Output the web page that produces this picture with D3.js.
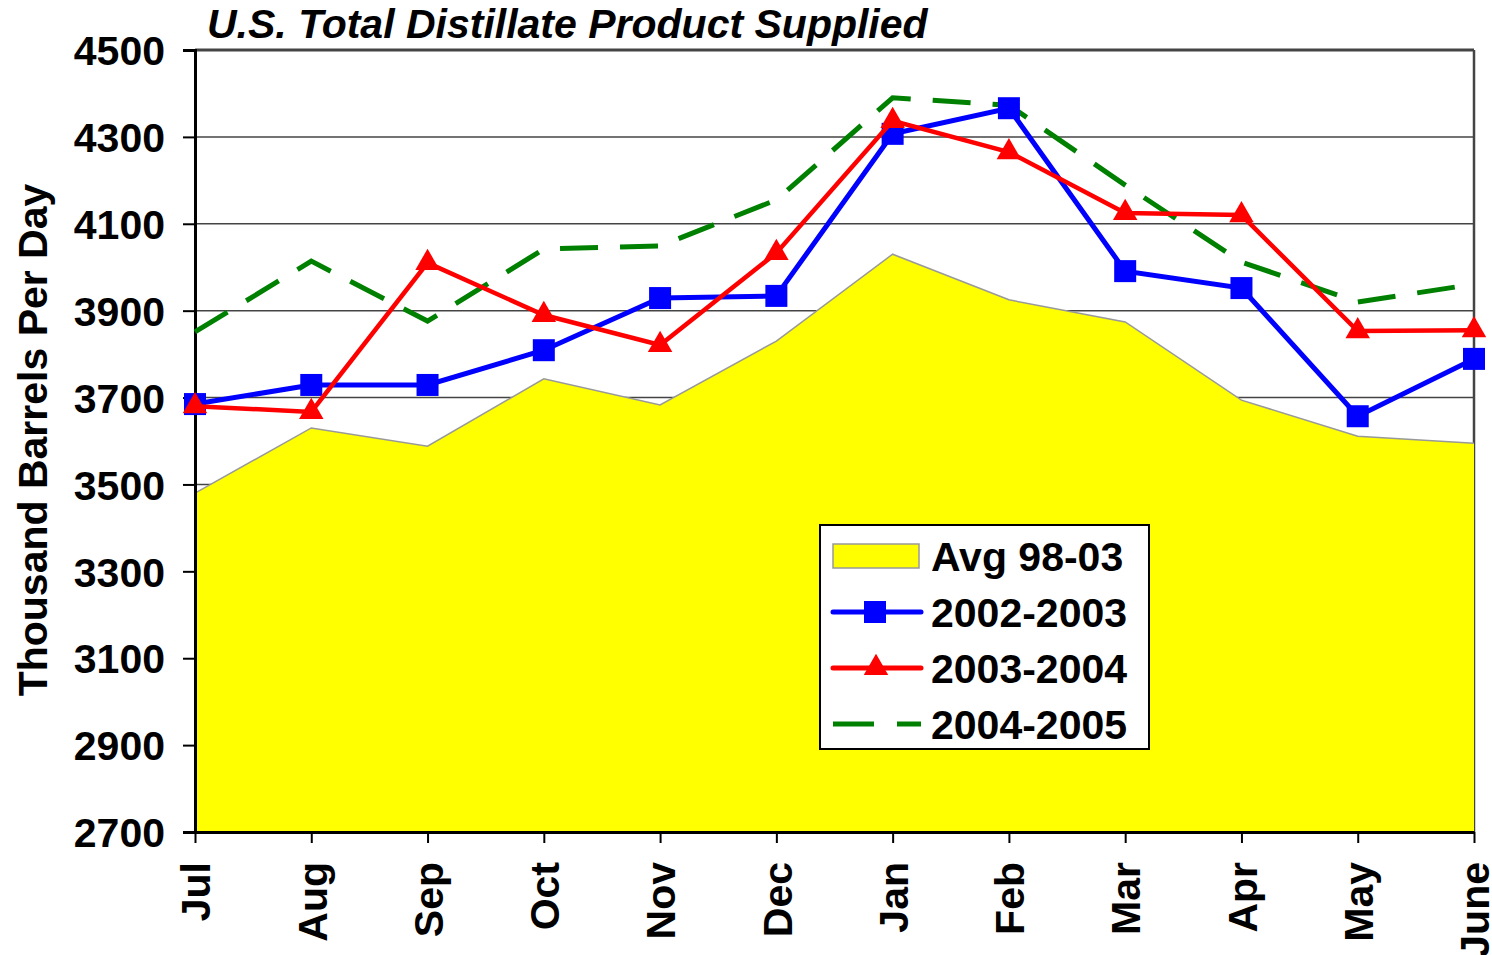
<!DOCTYPE html>
<html>
<head>
<meta charset="utf-8">
<script src="https://cdn.jsdelivr.net/npm/d3@7"></script>
<style>
  body { margin: 0; background: #fff; }
  svg text { font-family: "Liberation Sans", Arial, sans-serif; font-weight: bold; }
</style>
</head>
<body>
<div class="container_graph"></div>
<script>
const months = ["Jul", "Aug", "Sep", "Oct", "Nov", "Dec", "Jan", "Feb", "Mar", "Apr", "May", "June"];
const avg9803 = [3480, 3630, 3588, 3743, 3683, 3830, 4030, 3925, 3874, 3694, 3611, 3595];
const s2002 = [3685, 3729, 3729, 3809, 3929, 3934, 4307, 4366, 3991, 3952, 3657, 3789];
const s2003 = [3680, 3667, 4010, 3890, 3821, 4033, 4337, 4265, 4125, 4120, 3853, 3855];
const s2004 = [3851, 4014, 3876, 4042, 4049, 4155, 4390, 4373, 4189, 4012, 3920, 3961];
const yTicks = [2700, 2900, 3100, 3300, 3500, 3700, 3900, 4100, 4300, 4500];

const width = 1492;
const height = 955;
const margin = { top: 50, right: 18, bottom: 123, left: 195 };
const fs = 41;

const svg = d3
  .select(".container_graph")
  .append("svg")
  .attr("width", width)
  .attr("height", height);

const xScale = d3
  .scalePoint()
  .domain(months)
  .range([margin.left, width - margin.right]);

const yScale = d3
  .scaleLinear()
  .domain([2700, 4500])
  .range([height - margin.bottom, margin.top]);

// gridlines
svg
  .append("g")
  .selectAll("line")
  .data(yTicks.slice(1))
  .join("line")
  .attr("x1", margin.left)
  .attr("x2", width - margin.right)
  .attr("y1", (d) => yScale(d))
  .attr("y2", (d) => yScale(d))
  .attr("stroke", "#444")
  .attr("stroke-width", (d) => (d === 4500 ? 3 : 1.5));

// right border
svg
  .append("line")
  .attr("x1", width - margin.right)
  .attr("x2", width - margin.right)
  .attr("y1", margin.top)
  .attr("y2", height - margin.bottom)
  .attr("stroke", "#444")
  .attr("stroke-width", 2.5);

// average area
const area = d3
  .area()
  .x((d, i) => xScale(months[i]))
  .y0(yScale(2700))
  .y1((d) => yScale(d));

svg
  .append("path")
  .datum(avg9803)
  .attr("d", area)
  .attr("fill", "#ffff00");

svg
  .append("path")
  .datum(avg9803)
  .attr("d", d3.line().x((d, i) => xScale(months[i])).y((d) => yScale(d)))
  .attr("fill", "none")
  .attr("stroke", "#999")
  .attr("stroke-width", 1.5);

// axes
const yAxis = d3
  .axisLeft(yScale)
  .tickValues(yTicks)
  .tickFormat(d3.format("d"))
  .tickSize(12)
  .tickPadding(18);
const gy = svg
  .append("g")
  .attr("transform", `translate(${margin.left},0)`)
  .call(yAxis);
gy.select(".domain").attr("stroke", "#000").attr("stroke-width", 3);
gy.selectAll(".tick line").attr("stroke", "#000").attr("stroke-width", 2);
gy.selectAll(".tick text")
  .attr("font-size", fs)
  .attr("fill", "#000")
  .attr("dy", "0.36em");

const xAxis = d3.axisBottom(xScale).tickSize(11).tickSizeOuter(0);
const gx = svg
  .append("g")
  .attr("transform", `translate(0,${height - margin.bottom})`)
  .call(xAxis);
gx.select(".domain").attr("stroke", "#000").attr("stroke-width", 3);
gx.selectAll(".tick line").attr("stroke", "#000").attr("stroke-width", 2);
gx.selectAll(".tick text")
  .attr("font-size", fs)
  .attr("fill", "#000")
  .attr("text-anchor", "end")
  .attr("transform", "rotate(-90)")
  .attr("x", -30)
  .attr("y", 0)
  .attr("dy", "0.36em");

// lines
const lineGen = d3
  .line()
  .x((d, i) => xScale(months[i]))
  .y((d) => yScale(d));

svg
  .append("path")
  .datum(s2004)
  .attr("d", lineGen)
  .attr("fill", "none")
  .attr("stroke", "#008000")
  .attr("stroke-width", 5)
  .attr("stroke-dasharray", "38 22");

svg
  .append("path")
  .datum(s2002)
  .attr("d", lineGen)
  .attr("fill", "none")
  .attr("stroke", "#0000ff")
  .attr("stroke-width", 5);

svg
  .append("g")
  .selectAll("rect")
  .data(s2002)
  .join("rect")
  .attr("x", (d, i) => xScale(months[i]) - 11)
  .attr("y", (d) => yScale(d) - 11)
  .attr("width", 22)
  .attr("height", 22)
  .attr("fill", "#0000ff");

svg
  .append("path")
  .datum(s2003)
  .attr("d", lineGen)
  .attr("fill", "none")
  .attr("stroke", "#ff0000")
  .attr("stroke-width", 4.5);

const tri = d3.symbol().type(d3.symbolTriangle).size(260);
svg
  .append("g")
  .selectAll("path")
  .data(s2003)
  .join("path")
  .attr("d", tri)
  .attr("transform", (d, i) => `translate(${xScale(months[i])},${yScale(d)})`)
  .attr("fill", "#ff0000");

// title
svg
  .append("text")
  .attr("x", 207)
  .attr("y", 38)
  .attr("font-size", fs)
  .attr("font-style", "italic")
  .text("U.S. Total Distillate Product Supplied");

// y title
svg
  .append("text")
  .attr("transform", `translate(47, 440) rotate(-90)`)
  .attr("text-anchor", "middle")
  .attr("font-size", fs)
  .text("Thousand Barrels Per Day");

// legend
const legend = svg.append("g").attr("transform", "translate(820,525)");
legend
  .append("rect")
  .attr("width", 329)
  .attr("height", 224)
  .attr("fill", "#fff")
  .attr("stroke", "#000")
  .attr("stroke-width", 2);

const legendItems = [
  { label: "Avg 98-03", kind: "area" },
  { label: "2002-2003", kind: "square", color: "#0000ff" },
  { label: "2003-2004", kind: "triangle", color: "#ff0000" },
  { label: "2004-2005", kind: "dash", color: "#008000" },
];

legendItems.forEach((item, i) => {
  const g = legend.append("g").attr("transform", `translate(0, ${31 + i * 56})`);
  if (item.kind === "area") {
    g.append("rect")
      .attr("x", 13)
      .attr("y", -12)
      .attr("width", 86)
      .attr("height", 24)
      .attr("fill", "#ffff00")
      .attr("stroke", "#999")
      .attr("stroke-width", 1.5);
  } else if (item.kind === "dash") {
    g.append("line")
      .attr("x1", 13)
      .attr("x2", 101)
      .attr("stroke", item.color)
      .attr("stroke-width", 5)
      .attr("stroke-dasharray", "41 23");
  } else {
    g.append("line")
      .attr("x1", 13)
      .attr("x2", 101)
      .attr("stroke", item.color)
      .attr("stroke-width", 5)
      .attr("stroke-linecap", "round");
    if (item.kind === "square") {
      g.append("rect")
        .attr("x", 44)
        .attr("y", -11)
        .attr("width", 22)
        .attr("height", 22)
        .attr("fill", item.color);
    } else {
      g.append("path")
        .attr("d", tri)
        .attr("transform", "translate(56,0)")
        .attr("fill", item.color);
    }
  }
  g.append("text")
    .attr("x", 111)
    .attr("dy", "0.36em")
    .attr("font-size", fs)
    .text(item.label);
});
</script>
</body>
</html>
